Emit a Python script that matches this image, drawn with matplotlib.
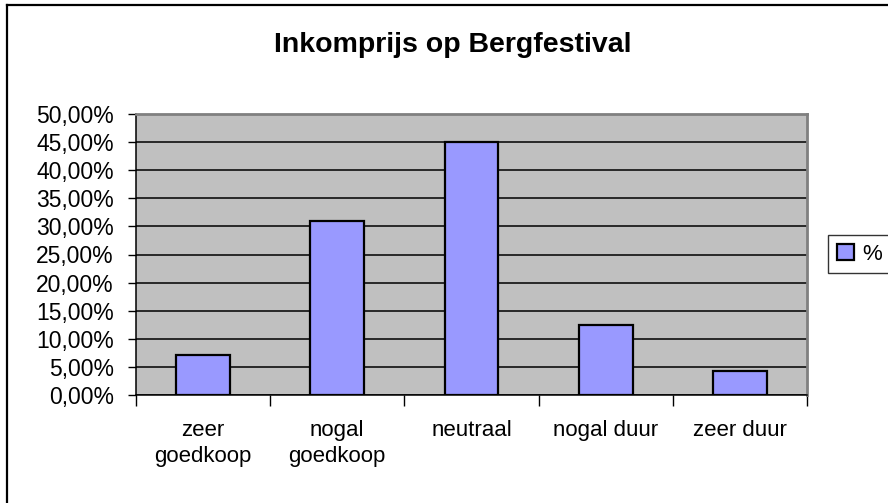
import matplotlib
matplotlib.use("Agg")
import matplotlib.pyplot as plt
from matplotlib.lines import Line2D
from matplotlib.ticker import FixedLocator, FuncFormatter

title = "Inkomprijs op Bergfestival"
categories = ["zeer\ngoedkoop", "nogal\ngoedkoop", "neutraal", "nogal duur", "zeer duur"]
values = [7.1, 31.0, 45.0, 12.5, 4.3]
series_name = "%"
yticks = [0, 5, 10, 15, 20, 25, 30, 35, 40, 45, 50]

plt.rcParams['font.family'] = ['Liberation Sans', 'DejaVu Sans']

W, H = 888, 503
fig = plt.figure(figsize=(W / 100, H / 100), dpi=100)
fig.patch.set_facecolor('white')

# outer chart border (left/top visible)
fig.add_artist(Line2D([6.5 / W, 6.5 / W], [0, 1 - 4.5 / H], color='black', lw=1.6,
                      transform=fig.transFigure))
fig.add_artist(Line2D([6.5 / W, 1], [1 - 4.5 / H, 1 - 4.5 / H], color='black', lw=1.6,
                      transform=fig.transFigure))

left, right, top, bottom = 136, 807, 114, 395
ax = fig.add_axes([left / W, 1 - bottom / H, (right - left) / W, (bottom - top) / H])
ax.set_facecolor('#C0C0C0')

x = list(range(len(categories)))
bars = ax.bar(x, values, width=0.4, color='#9999FF', edgecolor='black', linewidth=1.6,
              label=series_name, zorder=3)

ax.set_xlim(-0.5, len(categories) - 0.5)
ax.set_ylim(0, 50)
ax.yaxis.set_major_locator(FixedLocator(yticks))
ax.yaxis.set_major_formatter(FuncFormatter(lambda v, p: f"{v:.2f}".replace('.', ',') + "%"))
ax.grid(axis='y', color='black', linewidth=1.1, zorder=1)
ax.set_axisbelow(True)

# x ticks at category boundaries, labels centered
ax.set_xticks([i + 0.5 for i in range(-1, len(categories))])
ax.set_xticklabels([])
ax.set_xticks(x, minor=True)
ax.set_xticklabels(categories, minor=True, fontsize=16, linespacing=1.3)
ax.tick_params(axis='x', which='major', length=8, width=1, color='black', direction='out')
ax.tick_params(axis='x', which='minor', length=0, pad=18)
ax.tick_params(axis='y', length=6, width=1, direction='out', labelsize=16.5, pad=10)

for s in ['left', 'bottom']:
    ax.spines[s].set_color('black')
    ax.spines[s].set_linewidth(1.1)
for s in ['top', 'right']:
    ax.spines[s].set_color('#808080')
    ax.spines[s].set_linewidth(2)

fig.text(453 / W, 1 - 45 / H, title, ha='center', va='center',
         fontsize=20.5, fontweight='bold')

leg = fig.legend(handles=[bars], labels=[series_name], loc='center left',
                 bbox_to_anchor=(828 / W, 1 - 254 / H), fontsize=16,
                 frameon=True, fancybox=False, edgecolor='black', borderpad=0.4,
                 handlelength=0.75, handleheight=0.75, handletextpad=0.4, borderaxespad=0)
leg.get_frame().set_linewidth(1)

fig.savefig("out.png", dpi=100, facecolor='white')
